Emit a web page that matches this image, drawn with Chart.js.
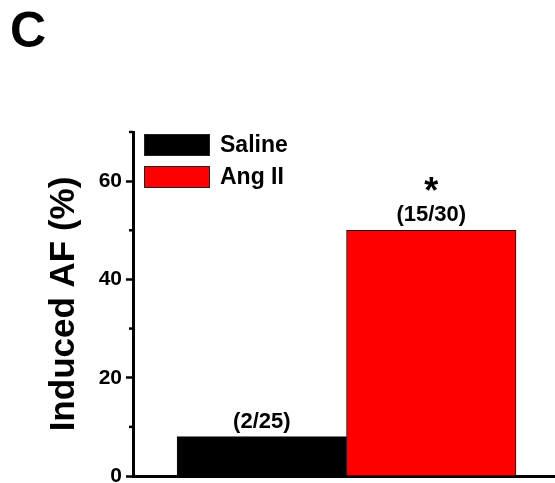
<!DOCTYPE html>
<html>
<head>
<meta charset="utf-8">
<script src="https://cdn.jsdelivr.net/npm/chart.js@4/dist/chart.umd.min.js"></script>
<style>
  body { margin: 0; background: #fff; }
</style>
</head>
<body>
<canvas id="myChart" width="555" height="483"></canvas>
<script>
const groups = ["Saline", "Ang II"];
const positions = [1, 2];
const inducedAF = [8, 50];
const counts = ["(2/25)", "(15/30)"];
const marks = ["", "*"];
const yLabels = [0, 20, 40, 60];
const colors = ["#000000", "#ff0000"];

const family = "'Liberation Sans', Arial, sans-serif";

// panel letter, legend, minor ticks and bar annotations
const overlay = {
  id: "overlay",
  afterDatasetsDraw(chart) {
    const ctx = chart.ctx;
    const area = chart.chartArea;
    const yScale = chart.scales.y;
    ctx.save();

    // short minor ticks
    ctx.strokeStyle = "#000";
    ctx.lineWidth = 2.5;
    yScale.ticks.forEach((t) => {
      if (yLabels.includes(t.value)) return;
      const py = yScale.getPixelForValue(t.value);
      ctx.beginPath();
      ctx.moveTo(area.left - 4, py);
      ctx.lineTo(area.left, py);
      ctx.stroke();
    });

    // counts + significance star
    ctx.fillStyle = "#000";
    ctx.textAlign = "center";
    ctx.textBaseline = "alphabetic";
    chart.data.datasets.forEach((ds, i) => {
      const bar = chart.getDatasetMeta(i).data[0];
      ctx.font = "bold 22px " + family;
      ctx.fillText(counts[i], bar.x, bar.y - 9);
      if (marks[i]) {
        ctx.font = "bold 36px " + family;
        ctx.fillText(marks[i], bar.x, bar.y - 27);
      }
    });

    // legend in upper left of plot
    ctx.textAlign = "left";
    ctx.textBaseline = "middle";
    ctx.font = "bold 23px " + family;
    chart.data.datasets.forEach((ds, i) => {
      const bx = area.left + 11;
      const by = area.top + 2 + i * 32;
      ctx.fillStyle = ds.backgroundColor;
      ctx.fillRect(bx, by, 66, 22);
      ctx.strokeStyle = "#222";
      ctx.lineWidth = 1;
      ctx.strokeRect(bx + 0.5, by + 0.5, 65, 21);
      ctx.fillStyle = "#000";
      ctx.fillText(ds.label, bx + 76, by + 12);
    });

    // panel letter
    ctx.font = "bold 50px " + family;
    ctx.textBaseline = "alphabetic";
    ctx.fillText("C", 10, 47);
    ctx.restore();
  },
};

var ctx = document.getElementById("myChart");
var myChart = new Chart(ctx, {
  type: "bar",
  data: {
    datasets: groups.map((g, i) => ({
      label: g,
      data: [{ x: positions[i], y: inducedAF[i] }],
      backgroundColor: colors[i],
      borderColor: "#111",
      borderWidth: 1,
      barPercentage: 1,
      categoryPercentage: 1,
      grouped: false,
    })),
  },
  options: {
    responsive: false,
    animation: false,
    layout: { padding: { left: 0, top: 132, right: 0, bottom: 7 } },
    plugins: {
      legend: { display: false },
      tooltip: { enabled: false },
    },
    scales: {
      x: {
        type: "linear",
        min: 0.24,
        max: 2.73,
        offset: false,
        afterBuildTicks: (s) => {
          s.ticks = positions.map((v) => ({ value: v }));
        },
        afterFit: (s) => {
          s.height = 0;
          s.paddingLeft = 0;
          s.paddingRight = 0;
        },
        ticks: { display: false },
        grid: { display: false, drawTicks: false },
        border: { display: true, color: "#000", width: 3 },
      },
      y: {
        min: 0,
        max: 70,
        afterFit: (s) => {
          s.width = 133;
          s.paddingTop = 0;
          s.paddingBottom = 0;
        },
        ticks: {
          stepSize: 10,
          autoSkip: false,
          padding: 4,
          color: "#000",
          font: { family: family, size: 21, weight: "bold" },
          callback: (v) => (yLabels.includes(v) ? v : ""),
        },
        grid: {
          drawOnChartArea: false,
          tickLength: 7,
          tickWidth: 2.5,
          tickColor: (c) =>
            c.tick && yLabels.includes(c.tick.value) ? "#000" : "rgba(0,0,0,0)",
        },
        border: { color: "#000", width: 3 },
        title: {
          display: true,
          text: "Induced AF (%)",
          color: "#000",
          font: { family: family, size: 35, weight: "bold", lineHeight: 1 },
          padding: { top: 47, bottom: 0 },
        },
      },
    },
  },
  plugins: [overlay],
});
</script>
</body>
</html>
